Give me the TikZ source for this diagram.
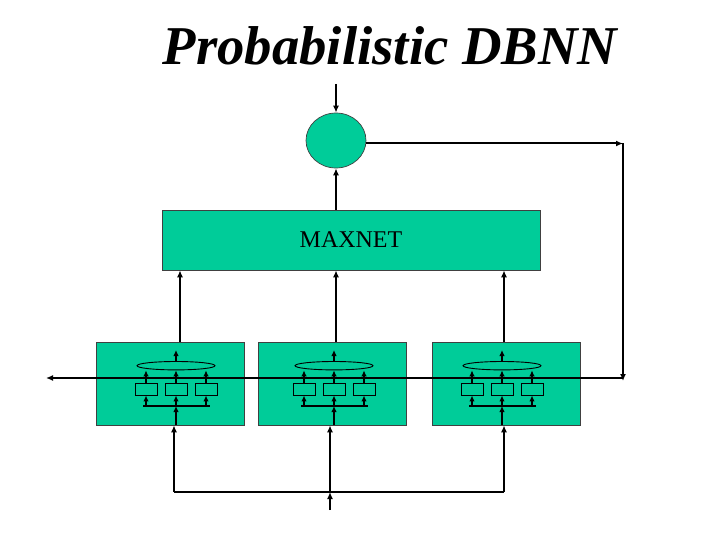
\documentclass[tikz,border=0pt]{standalone}
\usepackage{fontspec}
\setmainfont{Liberation Serif}
\usepackage{xcolor}
\usetikzlibrary{shapes.geometric, arrows.meta, positioning}
\definecolor{netgreen}{HTML}{00CC99}
\tikzstyle{arrow} = [line width=2pt,-{Latex[length=7pt,width=6pt]}]
\tikzstyle{small arrow} = [line width=1.6pt,-{Latex[length=6pt,width=5.5pt]}]
\tikzstyle{block} = [draw=black!75, fill=netgreen, line width=0.7pt, inner sep=0pt]
\tikzstyle{unit} = [draw, line width=0.9pt, minimum width=22pt, minimum height=12pt, inner sep=0pt]

\begin{document}
\begin{tikzpicture}[x=1pt,y=-1pt]
        \useasboundingbox (0,0) rectangle (720,540);
        \node[anchor=base] (title) at (390,65) {\fontsize{54.7}{60}\selectfont\bfseries\itshape Probabilistic DBNN};
        \node[block, ellipse, minimum width=60pt, minimum height=55pt] (circ) at (336,140.5) {};
        \node[block, minimum width=378pt, minimum height=60pt] (maxnet) at (351,240) {\fontsize{24}{28}\selectfont MAXNET};
        % three sub-networks
        \foreach \i/\x/\c/\t/\b in {1/170/176/180/174, 2/332/334/336/330, 3/506/502/504/504} {
            \node[block, minimum width=148pt, minimum height=83pt] (mod\i) at (\x,383.5) {};
            \node[draw, ellipse, line width=0.9pt, minimum width=78pt, minimum height=8.4pt, inner sep=0pt] (ell\i) at (\c,365.7) {};
            \coordinate (top\i) at (\c,350);
            \coordinate (bus\i) at (\c,406);
            \coordinate (busL\i) at (\c-33,406);
            \coordinate (busR\i) at (\c+34,406);
            \draw[line width=1.2pt] (busL\i) -- (busR\i);
            \foreach \j/\d in {1/-30, 2/0, 3/30} {
                \node[unit] (u\i-\j) at (\c+\d,389) {};
                \draw[small arrow] (u\i-\j.north) -- (u\i-\j.north |- ell\i.south);
                \draw[small arrow] (u\i-\j.south |- busL\i) -- (u\i-\j.south);
            }
            \draw[small arrow] (ell\i.north) -- (top\i);
            \draw[small arrow] (bus\i |- mod\i.south) -- (bus\i);
            \coordinate (out\i) at (\t,342);
            \draw[arrow] (out\i) -- (out\i |- maxnet.south);
            \coordinate (in\i) at (\b,492);
            \draw[arrow] (in\i) -- (in\i |- mod\i.south);
        }
        \draw[line width=1.6pt] (in1) -- (in3);
        \coordinate (src) at (330,510);
        \draw[arrow] (src) -- (in2);
        \draw[arrow] (maxnet.north -| circ.south) -- (circ.south);
        \coordinate (top) at (336,84);
        \draw[arrow] (top) -- (circ.north);
        % feedback loop
        \coordinate (fb) at (623,143.5);
        \coordinate (fbdown) at (623,381);
        \coordinate (outL) at (46,378);
        \draw[arrow] (circ.east |- fb) -- (fb);
        \draw[arrow] (fb) -- (fbdown);
        \draw[arrow] (fb |- outL) -- (outL);
\end{tikzpicture}
\end{document}
